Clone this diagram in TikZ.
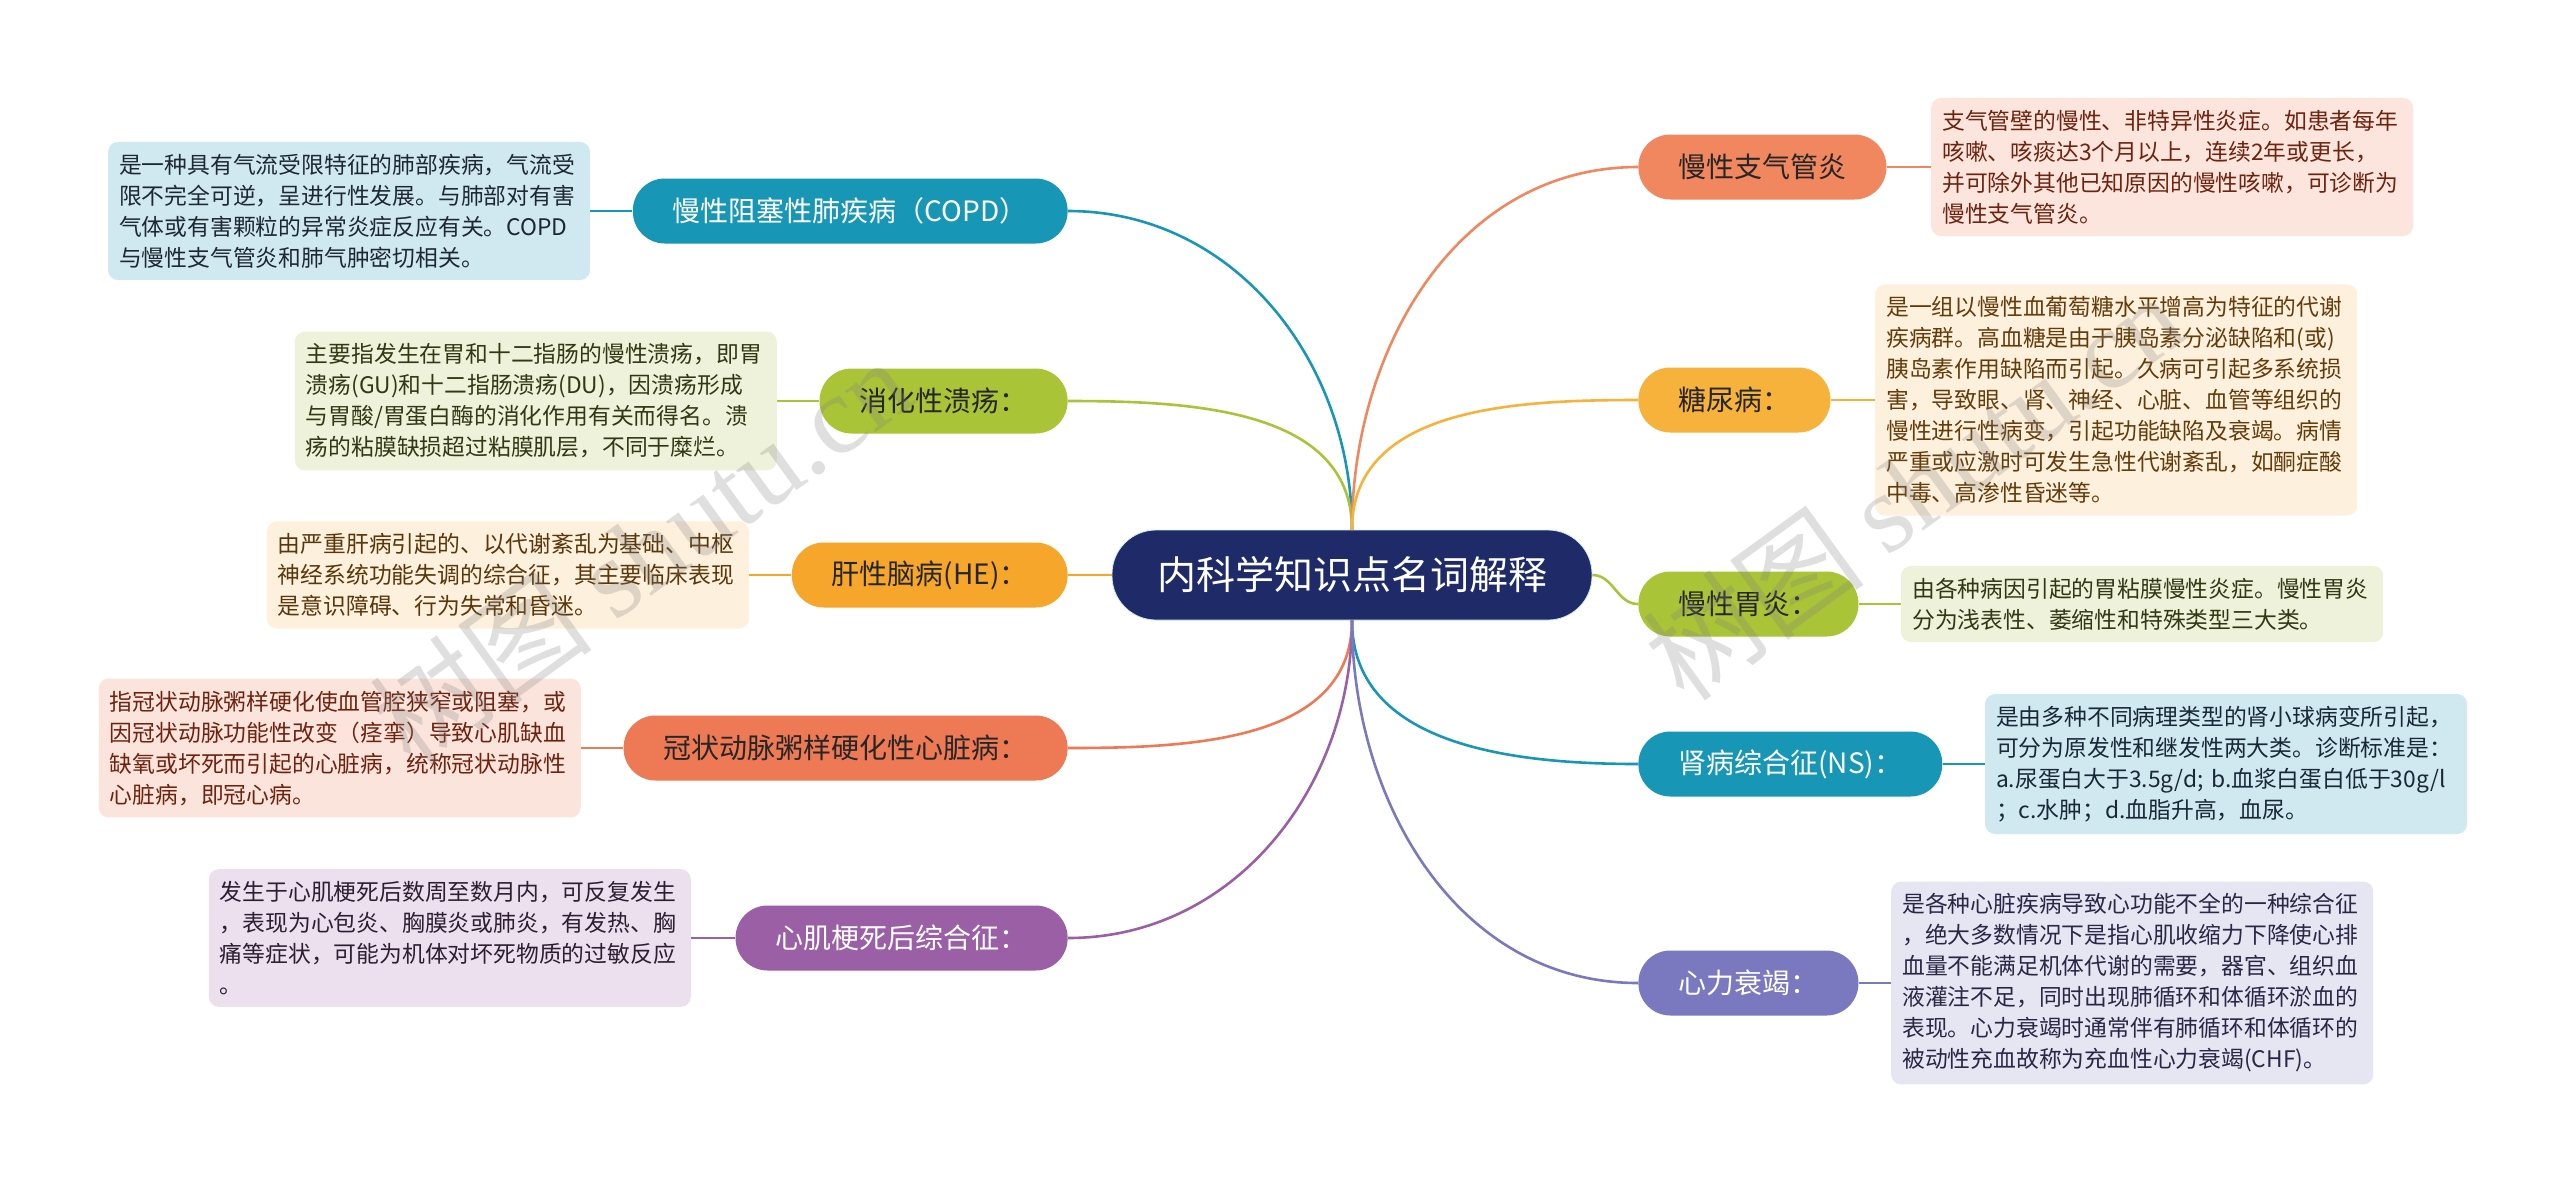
\documentclass[tikz,border=0pt]{standalone}
\usepackage{fontspec}
\setmainfont{Noto Sans CJK SC}
\newfontfamily\wmfont{Liberation Serif}
\usepackage{xcolor}
\usetikzlibrary{positioning}

\definecolor{rootblue}{RGB}{31,42,104}
\definecolor{teal}{RGB}{23,150,182}
\definecolor{tealbg}{RGB}{208,233,240}
\definecolor{lime}{RGB}{170,196,56}
\definecolor{limebg}{RGB}{239,242,218}
\definecolor{amber}{RGB}{246,166,43}
\definecolor{amberbg}{RGB}{253,240,220}
\definecolor{coral}{RGB}{238,121,85}
\definecolor{coralbg}{RGB}{251,228,220}
\definecolor{plum}{RGB}{155,95,165}
\definecolor{plumbg}{RGB}{236,224,238}
\definecolor{salmon}{RGB}{240,135,95}
\definecolor{salmonbg}{RGB}{252,229,221}
\definecolor{gold}{RGB}{247,178,60}
\definecolor{goldbg}{RGB}{253,241,222}
\definecolor{iris}{RGB}{122,120,190}
\definecolor{irisbg}{RGB}{230,229,242}

\begin{document}
\begin{tikzpicture}[x=0.5pt, y=-0.5pt,
    every node/.style={font=\fontsize{11.4pt}{15.5pt}\selectfont},
    root/.style={fill=rootblue, draw=tealbg, line width=0.4pt, text=white, rounded corners=22pt,
        minimum width=240pt, minimum height=45pt, font=\fontsize{19.5pt}{22pt}\selectfont},
    branch/.style={fill=#1, rounded corners=16pt, minimum height=32.5pt, inner xsep=20pt,
        font=\fontsize{14pt}{16pt}\selectfont},
    note/.style={fill=#1, rounded corners=5pt, text width=230pt, align=left,
        inner xsep=5.5pt, inner ysep=6pt},
    link/.style={draw=#1, line width=1.3pt},
    wm/.style={text=gray, text opacity=0.25, font=\fontsize{56pt}{60pt}\selectfont}]

    \useasboundingbox (0,0) rectangle (2560,1180);
    \fill[white] (0,0) rectangle (2560,1180);

    % central topic
    \node[root] (root) at (1352,575) {内科学知识点名词解释};

    % left branches
    \node[branch=teal, text=white, anchor=east] (copd) at (1068,211) {慢性阻塞性肺疾病（COPD）};
    \node[branch=lime, text=black!85, anchor=east] (ulcer) at (1068,401) {消化性溃疡：};
    \node[branch=amber, text=black!85, anchor=east] (he) at (1068,575) {肝性脑病(HE)：};
    \node[branch=coral, text=black!85, anchor=east] (chd) at (1068,748) {冠状动脉粥样硬化性心脏病：};
    \node[branch=plum, text=white, anchor=east] (pmi) at (1068,938) {心肌梗死后综合征：};

    % right branches
    \node[branch=salmon, text=black!85, anchor=west] (bronch) at (1638,167) {慢性支气管炎};
    \node[branch=gold, text=black!85, anchor=west] (dm) at (1638,400) {糖尿病：};
    \node[branch=lime, text=black!85, anchor=west] (gastr) at (1638,604) {慢性胃炎：};
    \node[branch=teal, text=white, anchor=west] (ns) at (1638,764) {肾病综合征(NS)：};
    \node[branch=iris, text=white, anchor=west] (hf) at (1638,983) {心力衰竭：};

    % explanations, left side
    \node[note=tealbg, text={rgb,255:red,30;green,40;blue,50}, left=21pt of copd] (copdtxt)
        {是一种具有气流受限特征的肺部疾病，气流受\\限不完全可逆，呈进行性发展。与肺部对有害\\气体或有害颗粒的异常炎症反应有关。COPD\\与慢性支气管炎和肺气肿密切相关。};
    \node[note=limebg, text={rgb,255:red,50;green,55;blue,20}, left=21pt of ulcer] (ulcertxt)
        {主要指发生在胃和十二指肠的慢性溃疡，即胃\\溃疡(GU)和十二指肠溃疡(DU)，因溃疡形成\\与胃酸/胃蛋白酶的消化作用有关而得名。溃\\疡的粘膜缺损超过粘膜肌层，不同于糜烂。};
    \node[note=amberbg, text={rgb,255:red,90;green,55;blue,10}, left=21pt of he] (hetxt)
        {由严重肝病引起的、以代谢紊乱为基础、中枢\\神经系统功能失调的综合征，其主要临床表现\\是意识障碍、行为失常和昏迷。};
    \node[note=coralbg, text={rgb,255:red,110;green,35;blue,15}, left=21pt of chd] (chdtxt)
        {指冠状动脉粥样硬化使血管腔狭窄或阻塞，或\\因冠状动脉功能性改变（痉挛）导致心肌缺血\\缺氧或坏死而引起的心脏病，统称冠状动脉性\\心脏病，即冠心病。};
    \node[note=plumbg, text={rgb,255:red,45;green,30;blue,50}, left=22pt of pmi] (pmitxt)
        {发生于心肌梗死后数周至数月内，可反复发生\\，表现为心包炎、胸膜炎或肺炎，有发热、胸\\痛等症状，可能为机体对坏死物质的过敏反应\\。};

    % explanations, right side
    \node[note=salmonbg, text={rgb,255:red,110;green,35;blue,15}, right=22pt of bronch] (bronchtxt)
        {支气管壁的慢性、非特异性炎症。如患者每年\\咳嗽、咳痰达3个月以上，连续2年或更长，\\并可除外其他已知原因的慢性咳嗽，可诊断为\\慢性支气管炎。};
    \node[note=goldbg, text={rgb,255:red,100;green,60;blue,10}, right=22pt of dm] (dmtxt)
        {是一组以慢性血葡萄糖水平增高为特征的代谢\\疾病群。高血糖是由于胰岛素分泌缺陷和(或)\\胰岛素作用缺陷而引起。久病可引起多系统损\\害，导致眼、肾、神经、心脏、血管等组织的\\慢性进行性病变，引起功能缺陷及衰竭。病情\\严重或应激时可发生急性代谢紊乱，如酮症酸\\中毒、高渗性昏迷等。};
    \node[note=limebg, text={rgb,255:red,50;green,55;blue,20}, right=21pt of gastr] (gastrtxt)
        {由各种病因引起的胃粘膜慢性炎症。慢性胃炎\\分为浅表性、萎缩性和特殊类型三大类。};
    \node[note=tealbg, text={rgb,255:red,25;green,40;blue,55}, right=21pt of ns] (nstxt)
        {是由多种不同病理类型的肾小球病变所引起，\\可分为原发性和继发性两大类。诊断标准是：\\a.尿蛋白大于3.5g/d;~b.血浆白蛋白低于30g/l\\；c.水肿；d.血脂升高，血尿。};
    \node[note=irisbg, text={rgb,255:red,40;green,40;blue,70}, right=16pt of hf] (hftxt)
        {是各种心脏疾病导致心功能不全的一种综合征\\，绝大多数情况下是指心肌收缩力下降使心排\\血量不能满足机体代谢的需要，器官、组织血\\液灌注不足，同时出现肺循环和体循环淤血的\\表现。心力衰竭时通常伴有肺循环和体循环的\\被动性充血故称为充血性心力衰竭(CHF)。};

    % connectors from the central topic
    \draw[link=teal] (root.north) to[out=90, in=0] (copd.east);
    \draw[link=lime] (root.north) to[out=90, in=0] (ulcer.east);
    \draw[link=amber] (root.west) -- (he.east);
    \draw[link=coral] (root.south) to[out=-90, in=0] (chd.east);
    \draw[link=plum] (root.south) to[out=-90, in=0] (pmi.east);
    \draw[link=salmon] (root.north) to[out=90, in=180] (bronch.west);
    \draw[link=gold] (root.north) to[out=90, in=180] (dm.west);
    \draw[link=lime] (root.east) to[out=0, in=180] (gastr.west);
    \draw[link=teal] (root.south) to[out=-90, in=180] (ns.west);
    \draw[link=iris] (root.south) to[out=-90, in=180] (hf.west);

    % connectors to the explanations
    \draw[link=teal] (copd.west) -- (copdtxt.east);
    \draw[link=lime] (ulcer.west) -- (ulcertxt.east);
    \draw[link=amber] (he.west) -- (hetxt.east);
    \draw[link=coral] (chd.west) -- (chdtxt.east);
    \draw[link=plum] (pmi.west) -- (pmitxt.east);
    \draw[link=salmon] (bronch.east) -- (bronchtxt.west);
    \draw[link=gold] (dm.east) -- (dmtxt.west);
    \draw[link=lime] (gastr.east) -- (gastrtxt.west);
    \draw[link=teal] (ns.east) -- (nstxt.west);
    \draw[link=iris] (hf.east) -- (hftxt.west);

    % watermark
    \node[wm, rotate=36] (wmleft) at (641,551) {树图 {\wmfont shutu.cn}};
    \node[wm, rotate=36] (wmright) at (1913,486) {树图 {\wmfont shutu.cn}};
\end{tikzpicture}
\end{document}
